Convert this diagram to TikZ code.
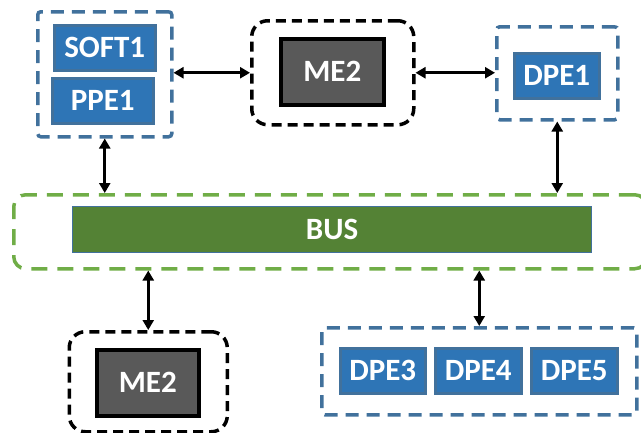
\documentclass[tikz,border=0pt]{standalone}
\usepackage{fontspec}
\setmainfont{Carlito}
\usetikzlibrary{arrows.meta}
\definecolor{bluefill}{HTML}{2E75B6}
\definecolor{blueedge}{HTML}{41719C}
\definecolor{greendash}{HTML}{70AD47}
\definecolor{busfill}{HTML}{548235}
\definecolor{grayfill}{HTML}{595959}
\begin{document}
\begin{tikzpicture}[x=1pt,y=-1pt,
  lbl/.style={text=white, font=\fontsize{31}{31}\selectfont\bfseries, inner sep=0pt, anchor=north west},
  pe/.style={lbl, draw=blueedge, fill=bluefill, line width=2.5pt},
  me/.style={lbl, draw=black, fill=grayfill, line width=3.5pt},
  busbox/.style={lbl, draw=blueedge, fill=busfill, line width=1pt},
  bluegroup/.style={draw=blueedge, line width=3.5pt, dash pattern=on 13pt off 8pt, rounded corners=3pt, inner sep=0pt, anchor=north west},
  blackgroup/.style={draw=black, line width=3.5pt, dash pattern=on 10pt off 6pt, rounded corners=16pt, inner sep=0pt, anchor=north west},
  greengroup/.style={draw=greendash, line width=3.5pt, dash pattern=on 16pt off 10pt, rounded corners=12pt, inner sep=0pt, anchor=north west},
  arr/.style={draw=black, line width=3pt, {Triangle[length=10pt,width=11pt]}-{Triangle[length=10pt,width=11pt]}}]
\useasboundingbox (0,0) rectangle (641,432);
% groups
\node[bluegroup, minimum width=134pt, minimum height=125pt] (g1) at (36,10) {};
\node[blackgroup, minimum width=162pt, minimum height=104pt] (g2) at (250,19) {};
\node[bluegroup, minimum width=121pt, minimum height=93pt] (g3) at (495,25) {};
\node[greengroup, minimum width=633pt, minimum height=74pt] (g4) at (12,193) {};
\node[blackgroup, minimum width=158pt, minimum height=100pt] (g5) at (67.5,330) {};
\node[bluegroup, minimum width=315pt, minimum height=87pt] (g6) at (320,326) {};
% inner boxes
\node[pe, minimum width=101pt, minimum height=45pt] (soft) at (53,24) {SOFT1};
\node[pe, minimum width=101pt, minimum height=45pt] (ppe) at (51,77) {PPE1};
\node[me, minimum width=103pt, minimum height=66pt] (metop) at (279,37) {ME2};
\node[pe, minimum width=85pt, minimum height=45pt] (dpe1) at (513,52) {DPE1};
\node[busbox, minimum width=519pt, minimum height=46pt] (bus) at (72,206) {BUS};
\node[me, minimum width=102pt, minimum height=66pt] (mebot) at (95,348) {ME2};
\node[pe, minimum width=85pt, minimum height=45pt] (dpe3) at (339,347) {DPE3};
\node[pe, minimum width=86pt, minimum height=45pt] (dpe4) at (434,347) {DPE4};
\node[pe, minimum width=86pt, minimum height=45pt] (dpe5) at (530,347) {DPE5};
% connectors
\draw[arr] (g1.east |- g2.west) -- (g2.west);
\draw[arr] (g2.east) -- (g3.west |- g2.east);
\draw[arr] (g1.south) -- (g4.north -| g1.south);
\draw[arr] (g3.south) -- (g4.north -| g3.south);
\draw[arr] (g4.south -| g5.north) -- (g5.north);
\draw[arr] (g4.south -| g6.north) -- (g6.north);
\end{tikzpicture}
\end{document}
